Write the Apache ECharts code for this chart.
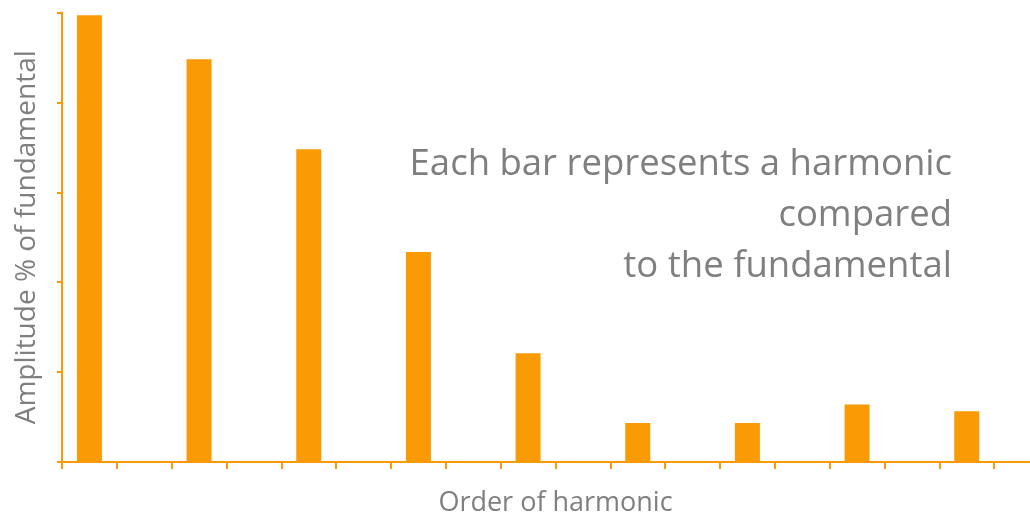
<!DOCTYPE html>
<html>
<head>
<meta charset="utf-8">
<script src="https://cdn.jsdelivr.net/npm/echarts@6/dist/echarts.min.js"></script>
<style>
  html, body { margin: 0; padding: 0; background: #ffffff; }
  #chart { width: 1030px; height: 515px; }
</style>
</head>
<body>
<div id="chart"></div>
<script>
// Harmonic orders 1..18; only odd harmonics carry energy
const harmonicOrders = ['1','2','3','4','5','6','7','8','9','10','11','12','13','14','15','16','17','18'];
// Amplitude as % of the fundamental (null = no bar)
const amplitudes = [99.4, null, 89.6, null, 69.6, null, 46.7, null, 24.2, null, 8.7, null, 8.7, null, 12.8, null, 11.3, null];
const yTicks = { min: 0, max: 100, interval: 20 };
// Annotation lines, right-aligned
const noteLines = ['Each bar represents a harmonic', 'compared', 'to the fundamental'];

const orange = '#FA9A05';
const gray = '#7F7F7F';
const font = '"Open Sans", "Noto Sans", sans-serif';

const chart = echarts.init(document.getElementById('chart'), null, { renderer: 'canvas' });
chart.setOption({
  animation: false,
  backgroundColor: '#ffffff',
  // the plot runs past the right edge of the canvas (last category is cut off)
  grid: {
    left: 62, top: 12.5, height: 449.5, width: 987,
    containLabel: false,
    outerBoundsMode: 'none'
  },
  xAxis: {
    type: 'category',
    data: harmonicOrders,
    boundaryGap: true,
    name: 'Order of harmonic',
    nameLocation: 'middle',
    nameGap: 28,
    nameTextStyle: { color: gray, fontSize: 27, fontFamily: font },
    axisLine: { show: true, lineStyle: { color: orange, width: 2 } },
    axisTick: { show: true, interval: 0, length: 7, lineStyle: { color: orange, width: 2 } },
    axisLabel: { show: false },
    splitLine: { show: false }
  },
  yAxis: {
    type: 'value',
    min: yTicks.min,
    max: yTicks.max,
    interval: yTicks.interval,
    name: 'Amplitude % of fundamental',
    nameLocation: 'middle',
    nameGap: 21,
    nameTextStyle: { color: gray, fontSize: 28, fontFamily: font },
    axisLine: { show: true, lineStyle: { color: orange, width: 2 } },
    axisTick: { show: true, length: 5, lineStyle: { color: orange, width: 2 } },
    axisLabel: { show: false },
    splitLine: { show: false }
  },
  graphic: noteLines.map((line, i) => ({
    type: 'text',
    right: 78,
    top: 146 + i * 51,
    style: {
      text: line,
      fill: gray,
      font: '36.5px ' + font
    }
  })),
  series: [{
    type: 'bar',
    data: amplitudes,
    barWidth: 25,
    itemStyle: { color: orange }
  }]
});
</script>
</body>
</html>
